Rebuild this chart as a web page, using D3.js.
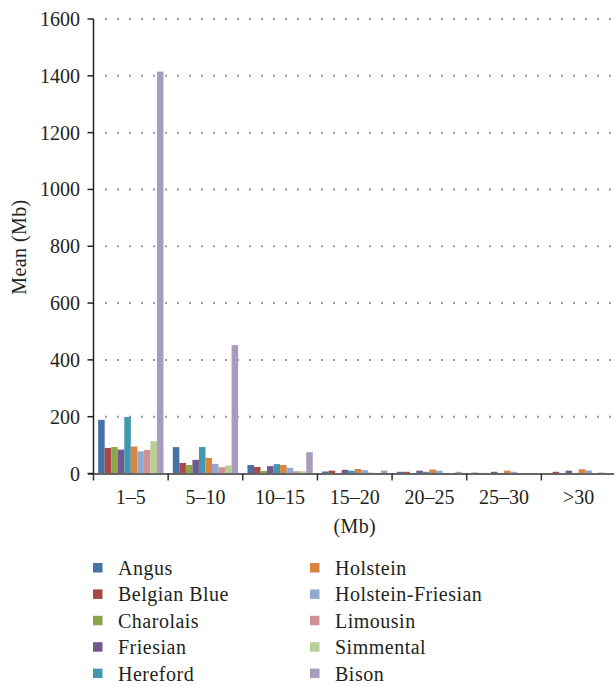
<!DOCTYPE html>
<html>
<head>
<meta charset="utf-8">
<script src="https://cdn.jsdelivr.net/npm/d3@7"></script>
<style>
  html, body { margin: 0; padding: 0; background: #fff; }
  svg { display: block; }
  text { font-family: "Liberation Serif", "Times New Roman", serif; fill: #231f20; }
</style>
</head>
<body>
<svg id="chart" width="614" height="686"></svg>
<script>
const categories = ["1–5", "5–10", "10–15", "15–20", "20–25", "25–30", ">30"];
const seriesNames = ["Angus", "Belgian Blue", "Charolais", "Friesian", "Hereford",
  "Holstein", "Holstein-Friesian", "Limousin", "Simmental", "Bison"];
const angus            = [189, 93, 30, 7, 6, 3, 1];
const belgianBlue      = [90, 37, 23, 10, 6, 2, 6];
const charolais        = [93, 30, 9, 1, 1, 1, 1];
const friesian         = [84, 48, 26, 13, 10, 6, 10];
const hereford         = [199, 93, 33, 10, 6, 2, 2];
const holstein         = [95, 55, 30, 16, 14, 10, 15];
const holsteinFriesian = [78, 34, 20, 12, 10, 6, 11];
const limousin         = [83, 22, 8, 3, 2, 1, 1];
const simmental        = [114, 28, 8, 2, 2, 1, 4];
const bison            = [1415, 452, 75, 10, 6, 2, 1];
const yTicks = [0, 200, 400, 600, 800, 1000, 1200, 1400, 1600];
const colors = ["#4572A7", "#AA4643", "#89A54E", "#71588F", "#4198AF",
  "#DB843D", "#93A9CF", "#D19392", "#B9CD96", "#A99BBD"];

const seriesValues = [angus, belgianBlue, charolais, friesian, hereford,
  holstein, holsteinFriesian, limousin, simmental, bison];

const svg = d3.select("#chart");
const xLeft = 93.5, xRight = 616, yBottom = 473.5, yTop = 19;

const x0 = d3.scaleBand().domain(categories).range([xLeft, xRight])
  .paddingInner(0.125).paddingOuter(0.0625);
const x1 = d3.scaleBand().domain(seriesNames).range([0, x0.bandwidth()]);
const y = d3.scaleLinear().domain([0, 1600]).range([yBottom, yTop]);
const color = d3.scaleOrdinal().domain(seriesNames).range(colors);

// gridlines
svg.append("g").selectAll("line")
  .data(yTicks.filter(d => d > 0))
  .join("line")
  .attr("x1", 105).attr("x2", xRight)
  .attr("y1", d => y(d)).attr("y2", d => y(d))
  .attr("stroke", "#9a9a9a").attr("stroke-width", 2)
  .attr("stroke-dasharray", "2,10");

// bars
const groups = svg.append("g").selectAll("g")
  .data(categories)
  .join("g")
  .attr("transform", d => `translate(${x0(d)},0)`);
groups.selectAll("rect")
  .data((c, i) => seriesNames.map((s, j) => ({ s, v: seriesValues[j][i] })))
  .join("rect")
  .attr("x", d => x1(d.s))
  .attr("width", x1.bandwidth())
  .attr("y", d => y(d.v))
  .attr("height", d => y(0) - y(d.v))
  .attr("fill", d => color(d.s));

// x axis
svg.append("line")
  .attr("x1", 88).attr("x2", 614).attr("y1", yBottom + 0.5).attr("y2", yBottom + 0.5)
  .attr("stroke", "#666").attr("stroke-width", 2);
const step = x0.step();
svg.append("g").selectAll("line")
  .data(d3.range(categories.length + 1))
  .join("line")
  .attr("x1", i => xLeft + i * step).attr("x2", i => xLeft + i * step)
  .attr("y1", yBottom).attr("y2", yBottom + 7)
  .attr("stroke", "#333").attr("stroke-width", 1.5);
svg.append("g").selectAll("text")
  .data(categories)
  .join("text")
  .attr("x", d => x0(d) + x0.bandwidth() / 2)
  .attr("y", 504)
  .attr("text-anchor", "middle")
  .style("font-size", "20px")
  .text(d => d);
svg.append("text")
  .attr("x", (xLeft + xRight) / 2).attr("y", 533)
  .attr("text-anchor", "middle")
  .style("font-size", "20px")
  .style("letter-spacing", "0.4px")
  .text("(Mb)");

// y axis
svg.append("line")
  .attr("x1", xLeft).attr("x2", xLeft).attr("y1", yTop).attr("y2", yBottom + 1)
  .attr("stroke", "#222").attr("stroke-width", 1.5);
svg.append("g").selectAll("line")
  .data(yTicks)
  .join("line")
  .attr("x1", 87.5).attr("x2", xLeft)
  .attr("y1", d => y(d)).attr("y2", d => y(d))
  .attr("stroke", "#222").attr("stroke-width", 1.5);
svg.append("g").selectAll("text")
  .data(yTicks)
  .join("text")
  .attr("x", 80)
  .attr("y", d => y(d))
  .attr("dy", "0.35em")
  .attr("text-anchor", "end")
  .style("font-size", "20px")
  .text(d => d);
svg.append("text")
  .attr("transform", "translate(26,247) rotate(-90)")
  .attr("text-anchor", "middle")
  .style("font-size", "20px")
  .style("letter-spacing", "0.4px")
  .text("Mean (Mb)");

// legend
const legend = svg.append("g").selectAll("g")
  .data(seriesNames)
  .join("g")
  .attr("transform", (d, i) => {
    const col = Math.floor(i / 5), row = i % 5;
    return `translate(${col === 0 ? 93 : 310},${568 + row * 26.4})`;
  });
legend.append("rect")
  .attr("x", 0).attr("y", -5).attr("width", 9.5).attr("height", 9.5)
  .attr("fill", d => color(d));
legend.append("text")
  .attr("x", 25).attr("y", 0).attr("dy", "0.35em")
  .style("font-size", "20px")
  .style("letter-spacing", "0.5px")
  .text(d => d);
</script>
</body>
</html>
